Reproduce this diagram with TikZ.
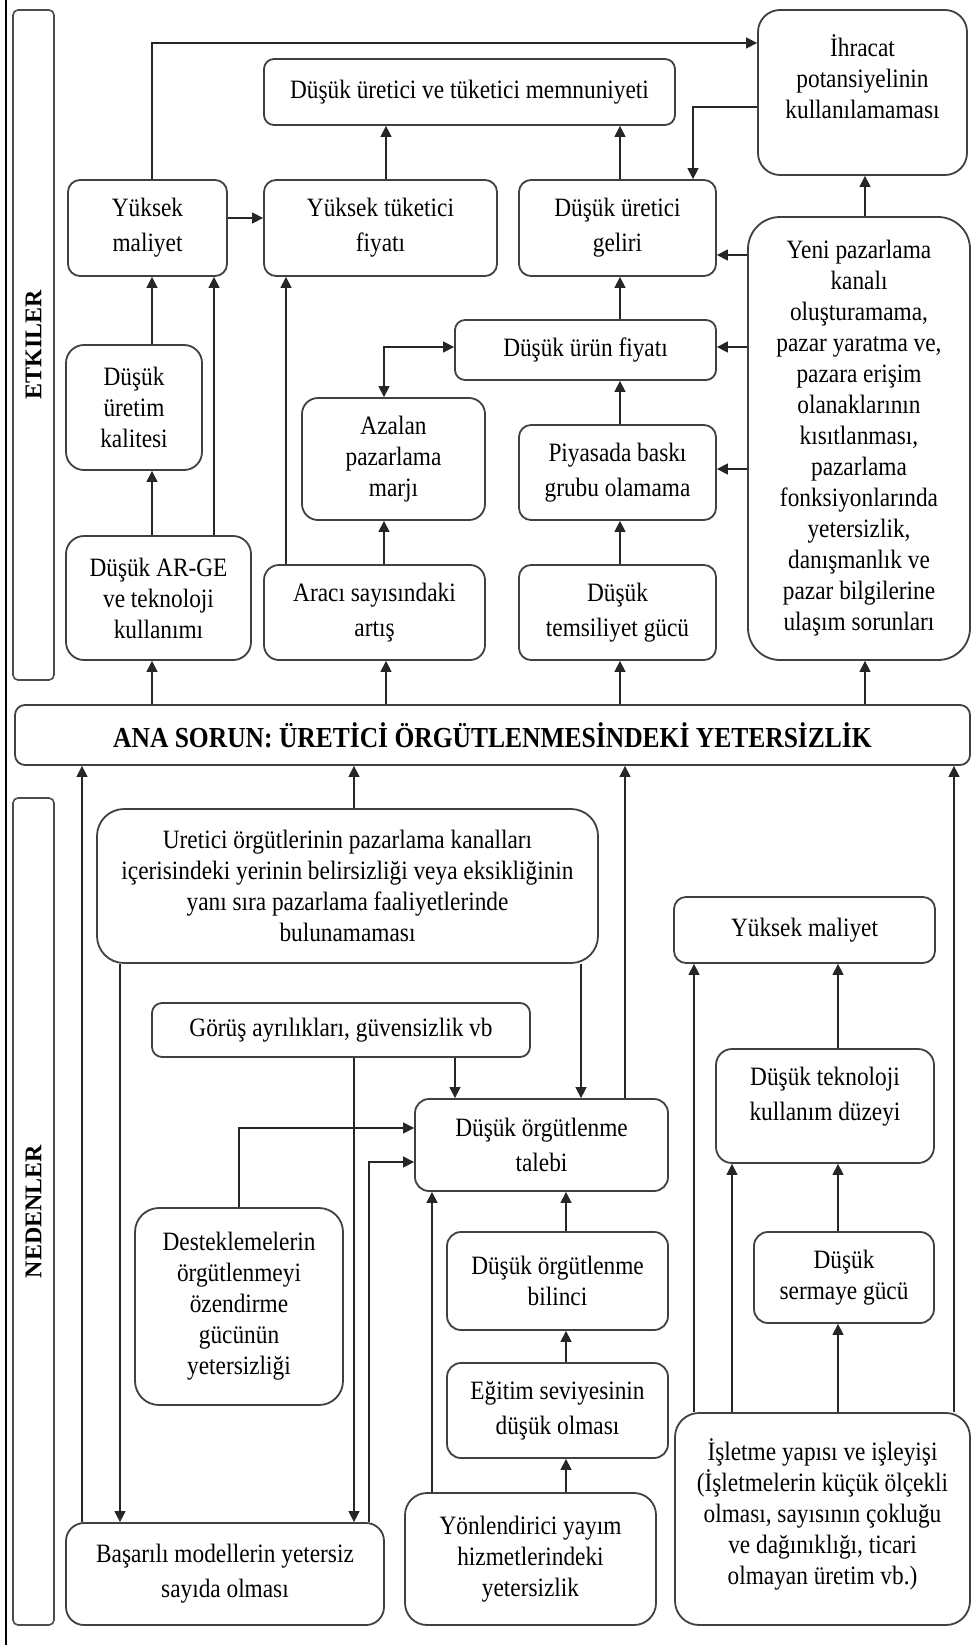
\documentclass[tikz,border=0pt]{standalone}
\usepackage{fontspec}
\setmainfont{Liberation Serif}[FakeStretch=0.88]
\newfontfamily\sidefont{Liberation Serif}
\usetikzlibrary{arrows.meta}

% box from its corners: [options]{name}{x1}{y1}{x2}{y2}{text}
\newcommand\boxat[7][]{%
  \pgfmathsetmacro\bxw{#5-#3}\pgfmathsetmacro\bxh{#6-#4}%
  \pgfmathsetmacro\bxcx{(#3+#5)/2}\pgfmathsetmacro\bxcy{(#4+#6)/2}%
  \node[box,minimum width=\bxw pt,minimum height=\bxh pt,#1] (#2) at (\bxcx,\bxcy) {#7};}

\tikzset{
  box/.style={draw=black!75, line width=1.8pt, rounded corners=12pt, fill=white,
    align=center, inner sep=2pt, font=\fontsize{26.5}{31}\selectfont},
  loose/.style={font=\fontsize{26.5}{35}\selectfont},
  side/.style={draw=black!70, line width=1.6pt, rounded corners=5pt, inner sep=0pt,
    font=\sidefont\bfseries\fontsize{24}{28}\selectfont},
  arr/.style={draw=black!85, line width=1.4pt, -{Triangle[length=11pt,width=11pt]}},
  both/.style={draw=black!85, line width=1.4pt,
    {Triangle[length=11pt,width=11pt]}-{Triangle[length=11pt,width=11pt]}},
  frame/.style={draw=black, line width=2pt}
}

\begin{document}
\begin{tikzpicture}[x=1pt,y=-1pt]
\useasboundingbox (0,0) rectangle (973,1645);
\draw[frame] (6,0) -- (6,1645);

% section labels
\node[side, rotate=90, minimum width=670pt, minimum height=41pt] (etk) at (33.5,345) {ETKILER};
\node[side, rotate=90, minimum width=827pt, minimum height=41pt] (ned) at (33.5,1211.5) {NEDENLER};

% effects
\boxat[rounded corners=22pt]{ihr}{758}{10}{967}{175}{İhracat\\potansiyelinin\\kullanılamaması\\\mbox{}}
\boxat[rounded corners=10pt]{memn}{264}{59}{675}{125}{Düşük üretici ve tüketici memnuniyeti}
\boxat[loose]{ymal}{68}{180}{227}{276}{Yüksek\\maliyet}
\boxat[loose]{ytf}{264}{180}{497}{276}{Yüksek tüketici\\fiyatı}
\boxat[loose]{dug}{519}{180}{716}{276}{Düşük üretici\\geliri}
\boxat[rounded corners=32pt]{yeni}{748}{217}{970}{660}{Yeni pazarlama\\kanalı\\oluşturamama,\\pazar yaratma ve,\\pazara erişim\\olanaklarının\\kısıtlanması,\\pazarlama\\fonksiyonlarında\\yetersizlik,\\danışmanlık ve\\pazar bilgilerine\\ulaşım sorunları}
\boxat[rounded corners=18pt]{kal}{66}{345}{202}{470}{Düşük\\üretim\\kalitesi}
\boxat[rounded corners=10pt]{duf}{455}{320}{716}{380}{Düşük ürün fiyatı}
\boxat[rounded corners=16pt]{aza}{302}{398}{485}{520}{Azalan\\pazarlama\\marjı}
\boxat[loose]{piy}{519}{425}{716}{520}{Piyasada baskı\\grubu olamama}
\boxat[rounded corners=18pt]{arge}{66}{536}{251}{660}{Düşük AR-GE\\ve teknoloji\\kullanımı}
\boxat[loose,rounded corners=15pt]{arac}{264}{565}{485}{660}{Aracı sayısındaki\\artış}
\boxat[loose]{tems}{519}{565}{716}{660}{Düşük\\temsiliyet gücü}

% main problem
\boxat[rounded corners=10pt, font=\bfseries\fontsize{29}{34}\selectfont]{ana}{15}{705}{970}{765}{ANA SORUN: ÜRETİCİ ÖRGÜTLENMESİNDEKİ YETERSİZLİK}

% causes
\boxat[rounded corners=27pt]{ure}{97}{809}{598}{963}{Uretici örgütlerinin pazarlama kanalları\\içerisindeki yerinin belirsizliği veya eksikliğinin\\yanı sıra pazarlama faaliyetlerinde\\bulunamaması}
\boxat{ymal2}{674}{897}{935}{963}{Yüksek maliyet}
\boxat[rounded corners=10pt]{gor}{152}{1003}{530}{1057}{Görüş ayrılıkları, güvensizlik vb}
\boxat[loose,rounded corners=14pt]{tal}{415}{1099}{668}{1191}{Düşük örgütlenme\\talebi}
\boxat[loose,rounded corners=16pt]{tek}{716}{1049}{934}{1163}{Düşük teknoloji\\kullanım düzeyi\\[-10pt]\mbox{}}
\boxat[rounded corners=24pt]{des}{135}{1208}{343}{1405}{Desteklemelerin\\örgütlenmeyi\\özendirme\\gücünün\\yetersizliği}
\boxat[rounded corners=14pt]{bil}{447}{1232}{668}{1330}{Düşük örgütlenme\\bilinci}
\boxat[rounded corners=14pt]{ser}{754}{1232}{934}{1323}{Düşük\\sermaye gücü}
\boxat[loose,rounded corners=14pt]{egi}{447}{1363}{668}{1458}{Eğitim seviyesinin\\düşük olması}
\boxat[rounded corners=24pt]{isl}{675}{1413}{970}{1625}{İşletme yapısı ve işleyişi\\(İşletmelerin küçük ölçekli\\olması, sayısının çokluğu\\ve dağınıklığı, ticari\\olmayan üretim vb.)\\[-16pt]\mbox{}}
\boxat[rounded corners=22pt]{yon}{405}{1493}{656}{1625}{Yönlendirici yayım\\hizmetlerindeki\\yetersizlik}
\boxat[loose,rounded corners=18pt]{bas}{66}{1523}{384}{1625}{Başarılı modellerin yetersiz\\sayıda olması}

% effect connectors
\draw[arr] (ymal.north -| 152,0) |- (ihr.west |- 0,43);
\draw[arr] (ymal.east |- 0,218) -- (ytf.west |- 0,218);
\draw[arr] (ytf.north -| 386,0) -- (memn.south -| 386,0);
\draw[arr] (dug.north -| 620,0) -- (memn.south -| 620,0);
\draw[arr] (ihr.west |- 0,107) -| (dug.north -| 693,0);
\draw[arr] (yeni.north -| 865,0) -- (ihr.south -| 865,0);
\draw[arr] (yeni.west |- 0,255) -- (dug.east |- 0,255);
\draw[arr] (yeni.west |- 0,347) -- (duf.east |- 0,347);
\draw[arr] (yeni.west |- 0,469) -- (piy.east |- 0,469);
\draw[arr] (kal.north -| 152,0) -- (ymal.south -| 152,0);
\draw[arr] (arge.north -| 214,0) -- (ymal.south -| 214,0);
\draw[arr] (arge.north -| 152,0) -- (kal.south -| 152,0);
\draw[arr] (arac.north -| 286,0) -- (ytf.south -| 286,0);
\draw[arr] (arac.north -| 384,0) -- (aza.south -| 384,0);
\draw[both] (aza.north -| 384,0) |- (duf.west |- 0,347);
\draw[arr] (duf.north -| 620,0) -- (dug.south -| 620,0);
\draw[arr] (piy.north -| 620,0) -- (duf.south -| 620,0);
\draw[arr] (tems.north -| 620,0) -- (piy.south -| 620,0);
\foreach \n/\x in {arge/152, arac/386, tems/620, yeni/865}
  \draw[arr] (ana.north -| \x,0) -- (\n.south -| \x,0);

% cause connectors
\draw[arr] (bas.north -| 82,0) -- (ana.south -| 82,0);
\draw[arr] (ure.north -| 354,0) -- (ana.south -| 354,0);
\draw[arr] (tal.north -| 625,0) -- (ana.south -| 625,0);
\draw[arr] (isl.north -| 954,0) -- (ana.south -| 954,0);
\draw[arr] (ure.south -| 120,0) -- (bas.north -| 120,0);
\draw[arr] (gor.south -| 354,0) -- (bas.north -| 354,0);
\draw[arr] (gor.south -| 455,0) -- (tal.north -| 455,0);
\draw[arr] (ure.south -| 581,0) -- (tal.north -| 581,0);
\draw[arr] (des.north -| 239,0) |- (tal.west |- 0,1128);
\draw[arr] (bas.north -| 369,0) |- (tal.west |- 0,1162);
\draw[arr] (yon.north -| 432,0) -- (tal.south -| 432,0);
\draw[arr] (bil.north -| 566,0) -- (tal.south -| 566,0);
\draw[arr] (egi.north -| 566,0) -- (bil.south -| 566,0);
\draw[arr] (yon.north -| 566,0) -- (egi.south -| 566,0);
\draw[arr] (isl.north -| 694,0) -- (ymal2.south -| 694,0);
\draw[arr] (tek.north -| 838,0) -- (ymal2.south -| 838,0);
\draw[arr] (isl.north -| 732,0) -- (tek.south -| 732,0);
\draw[arr] (ser.north -| 838,0) -- (tek.south -| 838,0);
\draw[arr] (isl.north -| 838,0) -- (ser.south -| 838,0);
\end{tikzpicture}
\end{document}
